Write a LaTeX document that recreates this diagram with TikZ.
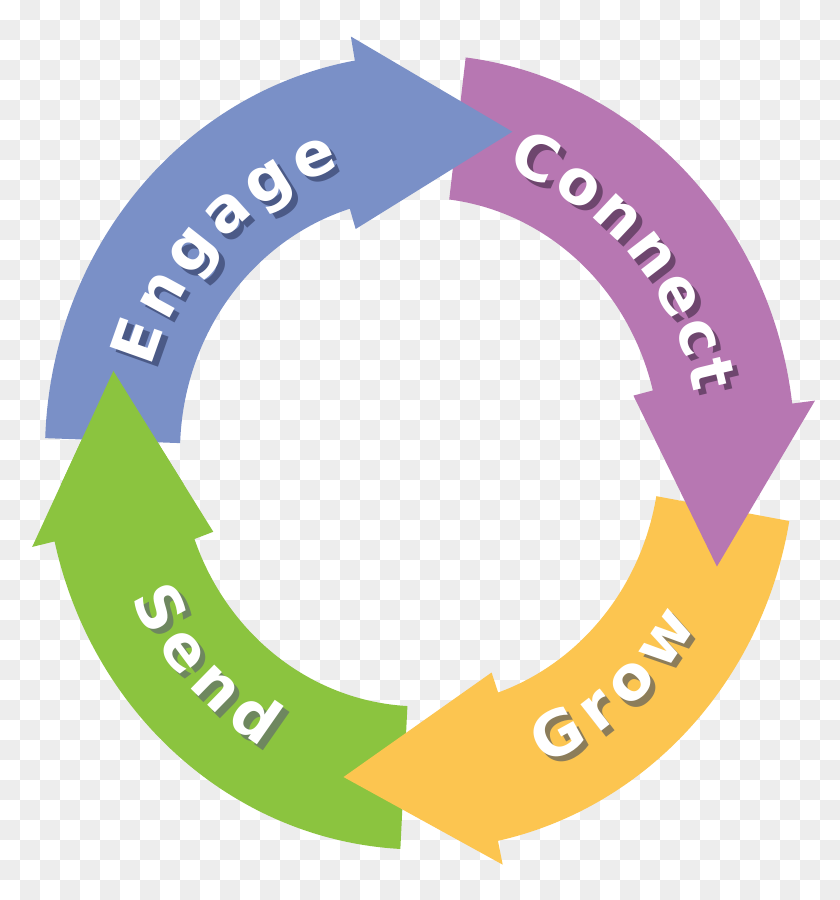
\documentclass[tikz,border=0pt]{standalone}
\usepackage{fontspec}
\setmainfont{DejaVu Sans}[BoldFont={DejaVu Sans Bold}]
\usetikzlibrary{decorations.text}
\definecolor{blau}{HTML}{7A90C7}
\definecolor{blaus}{HTML}{4B5A87}
\definecolor{lila}{HTML}{B777B2}
\definecolor{lilas}{HTML}{6E466E}
\definecolor{gelb}{HTML}{FCC550}
\definecolor{gelbs}{HTML}{8C7D5A}
\definecolor{gruen}{HTML}{8BC43F}
\definecolor{gruens}{HTML}{6E875F}
\definecolor{kachelgrau}{HTML}{EDEDED}
\newcommand\ringfont{\fontsize{35}{42}\selectfont\bfseries}
% radii of the ring (pixel units)
\newcommand\rout{375}
\newcommand\rin{240}
\newcommand\rbout{398}
\newcommand\rbin{220}
\newcommand\rtip{316}
% colour, tail angle, head angle, tip angle
\newcommand\ringpfeil[4]{%
  \fill[#1] (#2:\rout) arc[start angle=#2,end angle=#3,radius=\rout]
    -- (#3:\rbout) -- (#4:\rtip) -- ({#3+7}:\rbin) -- ({#3+7}:\rin)
    arc[start angle={#3+7},end angle=#2,radius=\rin] -- cycle;}
% text, radius, start angle, end angle, shadow colour
\newcommand\ringtext[5]{%
  \path[xshift=1.1mm,yshift=-1.1mm,decorate,decoration={text along path,
      text={|\ringfont|#1},text color=#5,text align={fit to path}}]
    (#3:#2) arc[start angle=#3,end angle=#4,radius=#2];
  \path[decorate,decoration={text along path,
      text={|\ringfont|#1},text color=white,text align={fit to path}}]
    (#3:#2) arc[start angle=#3,end angle=#4,radius=#2];}

\begin{document}
\begin{tikzpicture}[x=0.2mm,y=0.212mm]
  \useasboundingbox (-420,426.42) rectangle (420,-422.64);
  \begin{scope}[yscale=-0.9434,shift={(-420,-452)}]
    \fill[white] (0,0) rectangle (840,900);
    \foreach \j in {0,...,44}{
      \pgfmathtruncatemacro\versatz{mod(\j+1,2)}
      \foreach \i in {0,...,20}
        \fill[kachelgrau] ({20*(2*\i+\versatz)},{20*\j}) rectangle ++(20,20);
    }
  \end{scope}

  \ringpfeil{gruen}{267}{193}{166}
  \ringpfeil{gelb}{-10}{-78}{-104}
  \ringpfeil{lila}{83}{7}{-20}
  \ringpfeil{blau}{178}{100}{73}
  % green head lies on the blue tail
  \begin{scope}
    \clip (-450,-30) rectangle (0,450);
    \ringpfeil{gruen}{267}{193}{166}
  \end{scope}

  \ringtext{Engage}{280}{163.5}{106.5}{blaus}
  \ringtext{Connect}{280}{72}{11.5}{lilas}
  \ringtext{Grow}{320}{-67}{-30.5}{gelbs}
  \ringtext{Send}{320}{205.5}{240.5}{gruens}
\end{tikzpicture}
\end{document}
